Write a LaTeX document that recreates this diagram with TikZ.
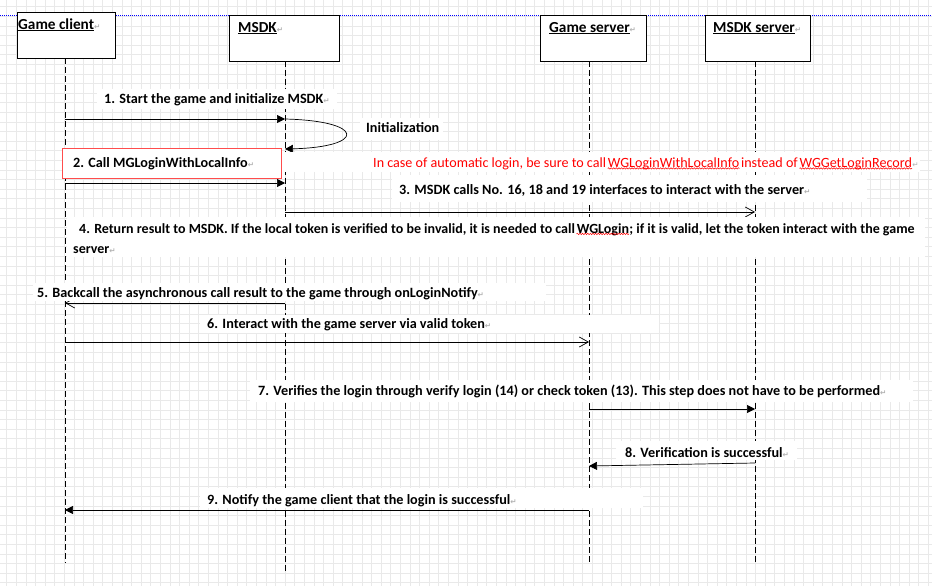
\documentclass[tikz,border=0pt]{standalone}
\usepackage{fontspec}
\setmainfont{Carlito}
\newfontfamily\symfont{DejaVu Sans}
\usetikzlibrary{arrows.meta,decorations.pathmorphing}

\newcommand\ret{{\color{gray!60}\symfont\fontsize{7.5}{7.5}\selectfont ↵}}

\begin{document}
\begin{tikzpicture}[scale=0.35146]
        \tikzstyle{every node}+=[inner sep=0pt, font=\fontsize{14.2}{16}\selectfont\bfseries]
        \tikzstyle{actor}=[draw=black, fill=white, line width=0.8pt, anchor=north west, minimum height=46pt]
        \tikzstyle{title}=[anchor=base west, font=\fontsize{15.3}{17}\selectfont\bfseries]
        \tikzstyle{msg}=[anchor=base west]
        \tikzstyle{note}=[anchor=base west, text=red, font=\fontsize{14.1}{16}\selectfont]
        \tikzstyle{lifeline}=[black, line width=0.7pt, dash pattern=on 6pt off 3pt]
        \tikzstyle{call}=[black, line width=0.7pt, -{Triangle[length=8pt,width=8pt]}]
        \tikzstyle{reply}=[black, line width=0.7pt, -{Straight Barb[length=9pt,width=10pt,line width=0.7pt]}]
        \tikzstyle{wave}=[red, line width=0.5pt, decorate, decoration={snake, amplitude=0.7pt, segment length=2.6pt}]
        \tikzstyle{labelbg}=[white]
        \useasboundingbox (0,0) rectangle (93.2,-58.5);
        \clip (0,0) rectangle (93.2,-58.5);
        \fill [white] (0,0) rectangle (93.2,-58.5);
        % background grid
        \begin{scope}[shift={(0.67,-0.67)}]
          \draw [gray!17, line width=0.45pt, step=0.96] (-1,-60) grid (94,1);
        \end{scope}
        \draw [blue, line width=0.6pt, dash pattern=on 1pt off 1pt] (0,-1.5) -- (93.2,-1.5);
        % actors
        \node [actor, minimum width=98pt] (client) at (1.7,-1.2) {};
        \node [title] at (1.8,-2.9) {\underline{Game client}\ret};
        \node [actor, minimum width=110pt] (msdk) at (22.9,-1.5) {};
        \node [title] at (23.8,-3.2) {\underline{MSDK}\ret};
        \node [actor, minimum width=106pt] (gserver) at (54.0,-1.5) {};
        \node [title] at (54.9,-3.2) {\underline{Game server}\ret};
        \node [actor, minimum width=105pt] (mserver) at (70.5,-1.5) {};
        \node [title] at (71.3,-3.2) {\underline{MSDK server}\ret};
        % lifelines
        \coordinate (cl) at (6.5,-5.8);
        \coordinate (ms) at (28.5,-6.1);
        \coordinate (gs) at (58.9,-6.1);
        \coordinate (sv) at (75.5,-6.1);
        \draw [lifeline] (cl) -- (cl |- 0,-56.3);
        \draw [lifeline] (ms) -- (ms |- 0,-57.2);
        \draw [lifeline] (gs) -- (gs |- 0,-56.3);
        \draw [lifeline] (sv) -- (sv |- 0,-56.3);
        % messages
        \draw [call] (cl |- 0,-11.9) -- (ms |- 0,-11.9);
        \draw [call] (ms |- 0,-11.9) .. controls (36.6,-12.1) and (36.6,-14.7) .. (ms |- 0,-14.9);
        \draw [call] (cl |- 0,-18.3) -- (ms |- 0,-18.3);
        \draw [reply] (ms |- 0,-21.2) -- (sv |- 0,-21.2);
        \draw [reply] (ms |- 0,-30.3) -- (cl |- 0,-30.3);
        \draw [reply] (cl |- 0,-34.2) -- (gs |- 0,-34.2);
        \draw [call] (gs |- 0,-40.9) -- (sv |- 0,-40.9);
        \draw [call] (sv |- 0,-46.3) -- (gs |- 0,-46.6);
        \draw [call] (gs |- 0,-51.0) -- (cl |- 0,-51.0);
        % labels
        \fill [labelbg] (9.7,-8.9) rectangle (33.7,-10.9);
        \node [msg] (m1) at (10.4,-10.35) {1. Start the game and initialize MSDK\ret};
        \fill [labelbg] (36.0,-11.8) rectangle (44.3,-14.0);
        \node [msg] (init) at (36.6,-13.25) {Initialization};
        \draw [red!70, fill=white, line width=0.7pt] (6.2,-14.8) rectangle (28.1,-17.8);
        \node [msg] (m2) at (7.3,-16.75) {2. Call MGLoginWithLocalInfo\ret};
        \fill [labelbg] (28.2,-15.2) rectangle (92.0,-17.2);
        \node [note] (auto) at (37.3,-16.75) {In case of automatic login, be sure to call};
        \node [note] (wg1) at ([xshift=4pt]auto.base east) {WGLoginWithLocalInfo};
        \node [note] (auto2) at ([xshift=4pt]wg1.base east) {instead of};
        \node [note] (wg2) at ([xshift=4pt]auto2.base east) {WGGetLoginRecord};
        \node [note] at (wg2.base east) {\ret};
        \draw [wave] ([yshift=-2.6pt]wg1.base west) -- ([yshift=-2.6pt]wg1.base east);
        \draw [wave] ([yshift=-2.6pt]wg2.base west) -- ([yshift=-2.6pt]wg2.base east);
        \fill [labelbg] (39.2,-17.5) rectangle (86.7,-20.2);
        \node [msg] (m3) at (39.9,-19.45) {3. MSDK calls No. 16, 18 and 19 interfaces to interact with the server\ret};
        \fill [labelbg] (6.7,-21.7) rectangle (92.5,-25.7);
        \tikzstyle{msgb}=[msg, font=\fontsize{14}{16}\selectfont\bfseries]
        \node [msgb] (m4) at (7.9,-23.3) {4. Return result to MSDK. If the local token is verified to be invalid, it is needed to call};
        \node [msgb] (wg3) at ([xshift=4pt]m4.base east) {WGLogin};
        \node [msgb] (m4a) at (wg3.base east) {; if it is valid, let the token interact with the game};
        \draw [wave] ([yshift=-2.6pt]wg3.base west) -- ([yshift=-2.6pt]wg3.base east);
        \node [msgb] (m4b) at (7.3,-25.3) {server\ret};
        \fill [labelbg] (3.3,-28.3) rectangle (54.6,-30.1);
        \node [msg] (m5) at (3.7,-29.7) {5. Backcall the asynchronous call result to the game through onLoginNotify\ret};
        \fill [labelbg] (20.0,-31.5) rectangle (65.9,-33.3);
        \node [msg] (m6) at (20.7,-32.85) {6. Interact with the game server via valid token\ret};
        \fill [labelbg] (25.0,-38.0) rectangle (91.3,-40.2);
        \node [msg] (m7) at (25.8,-39.55) {7. Verifies the login through verify login (14) or check token (13). This step does not have to be performed\ret};
        \fill [labelbg] (61.6,-44.1) rectangle (79.7,-46.0);
        \node [msg] (m8) at (62.5,-45.75) {8. Verification is successful\ret};
        \fill [labelbg] (20.0,-48.8) rectangle (64.3,-50.8);
        \node [msg] (m9) at (20.7,-50.45) {9. Notify the game client that the login is successful\ret};
    \end{tikzpicture}
\end{document}
